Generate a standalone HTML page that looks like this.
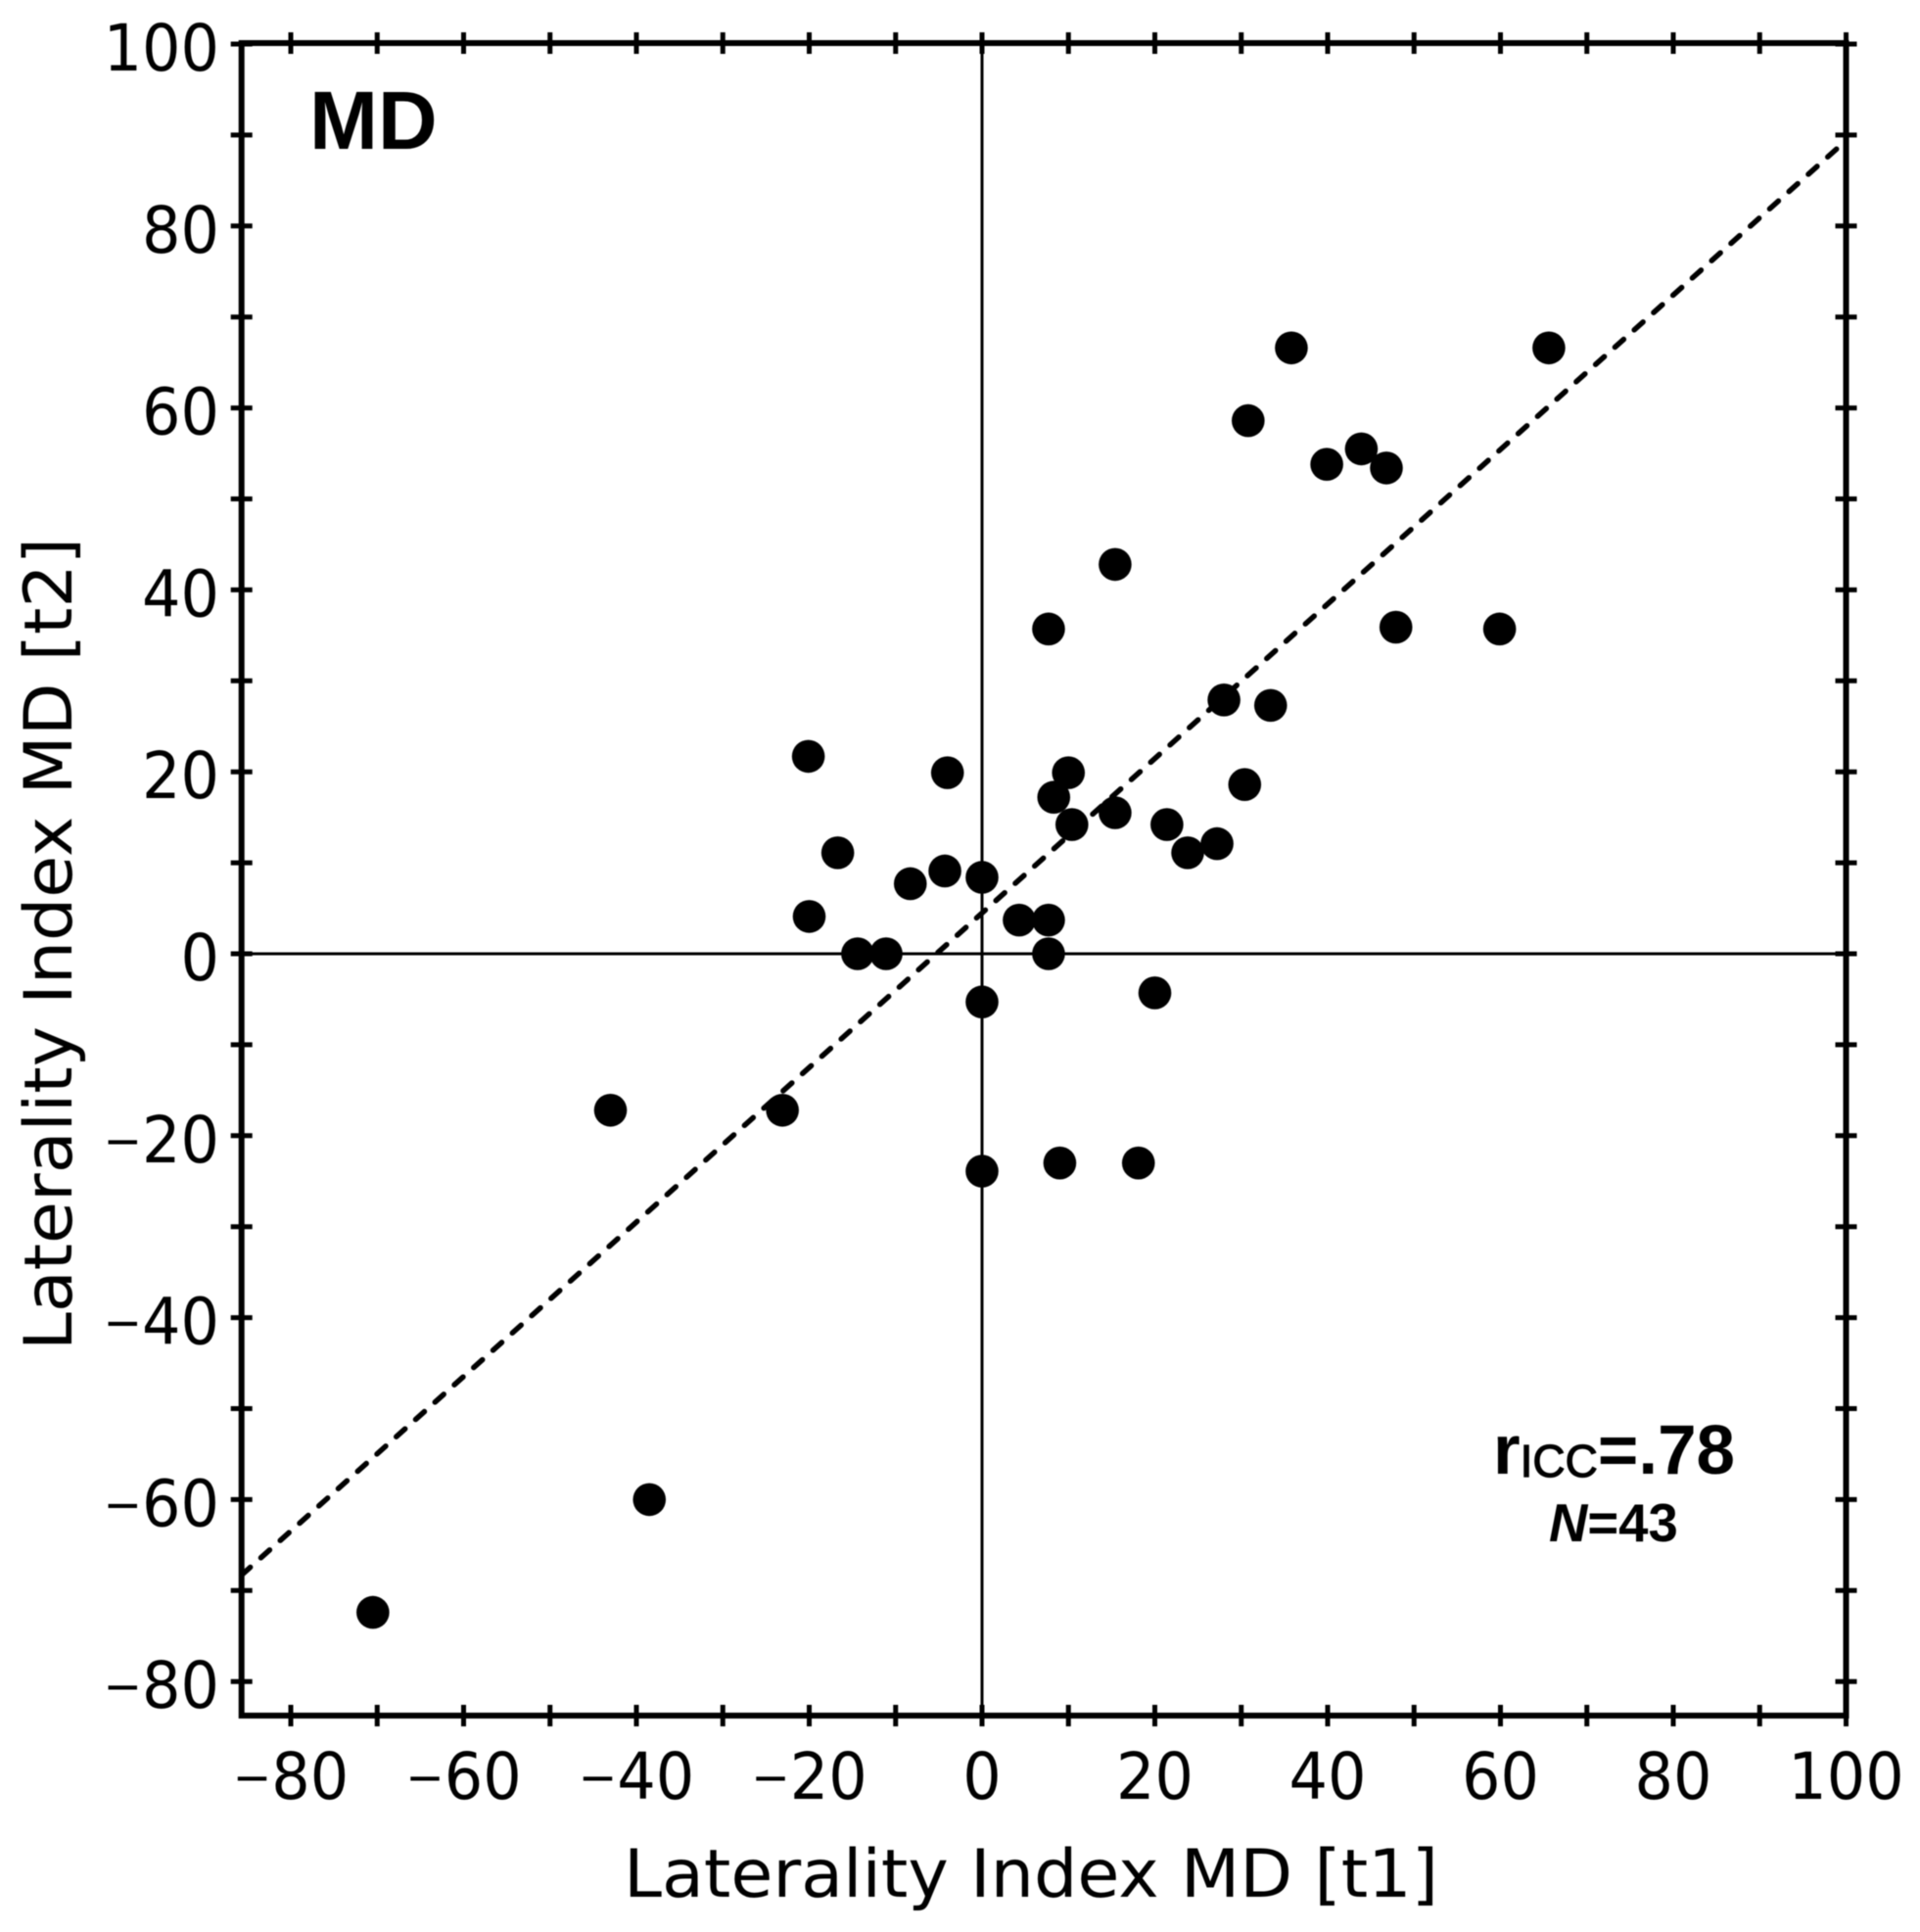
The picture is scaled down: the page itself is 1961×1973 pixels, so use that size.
<!DOCTYPE html>
<html lang="en">
<head>
<meta charset="utf-8">
<title>Laterality Index MD scatter plot</title>
<style>
html,body{margin:0;padding:0;background:#fff;width:1961px;height:1973px;overflow:hidden}
svg{display:block;filter:blur(0.6px)}
text{fill:#000}
.tick{font-family:"DejaVu Sans",sans-serif;font-size:66px}
.title{font-family:"DejaVu Sans",sans-serif;font-size:68px}
.b{font-family:"Liberation Sans",sans-serif;font-weight:bold}
</style>
</head>
<body>
<svg id="chart" xmlns="http://www.w3.org/2000/svg" width="1961" height="1973" viewBox="0 0 1961 1973">
<rect x="0" y="0" width="1961" height="1973" fill="#fff"/>
<g id="marks"></g>
<g id="axes"></g>
<text class="b" x="316" y="152" font-size="84">MD</text>
<text class="title" x="637" y="1937" textLength="832" lengthAdjust="spacingAndGlyphs">Laterality Index MD [t1]</text>
<text class="title" transform="translate(73,1379) rotate(-90)" x="0" y="0" textLength="830" lengthAdjust="spacingAndGlyphs">Laterality Index MD [t2]</text>
<text class="b" x="1525" y="1505" font-size="71">r<tspan font-size="46" font-weight="normal" stroke="#000" stroke-width="1.2" dy="3">ICC</tspan><tspan dy="-3">=.78</tspan></text>
<text class="b" x="1582" y="1574" font-size="54.5"><tspan font-style="italic">N</tspan>=43</text>
</svg>
<script>
var xValues = [-70.5,-38.5,-43,-23.1,0,9,18.1,0,20,-14.4,-11.1,7.7,7.7,4.3,-20,-8.3,-4.3,0,-16.7,-20.1,-4,10,8.3,10.4,15.4,21.4,23.8,27.2,30.4,33.4,28,7.7,15.4,47.9,59.9,30.8,35.8,65.6,39.9,43.9,46.8];
var yValues = [-72.4,-60,-17.2,-17.2,-23.9,-23,-23,-5.3,-4.3,0,0,0,3.7,3.7,4.1,7.7,9.1,8.4,11.1,21.7,19.9,19.9,17.2,14.2,15.5,14.2,11.1,12.1,18.6,27.3,27.9,35.7,42.8,35.9,35.7,58.6,66.6,66.6,53.8,55.5,53.4];
var fitX = [-85.7, 100];
var fitY = [-68.3, 89.4];
var tickLabels = [-80,-60,-40,-20,0,20,40,60,80,100];
var minorTicks = [-70,-50,-30,-10,10,30,50,70,90];

var NS = 'http://www.w3.org/2000/svg';
var plotLeft = 246.7, plotRight = 1885.5, plotTop = 44, plotBottom = 1752;
function sx(v){ return 1003 + v * 8.825; }
function sy(v){ return 974 - v * 9.29; }
function make(tag, attrs, parent){
  var el = document.createElementNS(NS, tag);
  for (var k in attrs) el.setAttribute(k, attrs[k]);
  parent.appendChild(el);
  return el;
}
function fillLabel(el, v){
  if (v < 0) {
    var m = make('tspan', {'font-size': 50, dy: -5}, el);
    m.textContent = '\u2212';
    var d = make('tspan', {dy: 5}, el);
    d.textContent = String(-v);
  } else {
    el.textContent = String(v);
  }
}
var marks = document.getElementById('marks');
var axes = document.getElementById('axes');

var vLine = make('line', {x1: sx(0), x2: sx(0), y1: plotTop, y2: plotBottom, stroke: '#000', 'stroke-width': 3}, marks);


var hLine = make('line', {x1: plotLeft, x2: plotRight, y1: sy(0), y2: sy(0), stroke: '#000', 'stroke-width': 3}, marks);


var fit = make('line', {x1: sx(fitX[0]), x2: sx(fitX[1]), y1: sy(fitY[0]), y2: sy(fitY[1]), stroke: '#000', 'stroke-width': 5.5, 'stroke-dasharray': '12 14.5', 'stroke-linecap': 'round'}, marks);



xValues.forEach(function(x, i){
  var dot = make('circle', {cx: sx(x), cy: sy(yValues[i]), r: 16.8, fill: '#000'}, marks);
  
  
});

var frame = make('rect', {x: plotLeft, y: plotTop, width: plotRight - plotLeft, height: plotBottom - plotTop, fill: 'none', stroke: '#000', 'stroke-width': 6}, axes);



tickLabels.concat(minorTicks).forEach(function(v){
  [plotTop, plotBottom].forEach(function(yy){
    var t = make('line', {x1: sx(v), x2: sx(v), y1: yy - 11, y2: yy + 11, stroke: '#000', 'stroke-width': 5}, axes);
    
    
  });
  [plotLeft, plotRight].forEach(function(xx){
    var t = make('line', {x1: xx - 11, x2: xx + 11, y1: sy(v), y2: sy(v), stroke: '#000', 'stroke-width': 5}, axes);
    
    
  });
});

tickLabels.forEach(function(v){
  var xl = make('text', {transform: 'translate(' + sx(v) + ',1837) scale(0.94,1)', 'text-anchor': 'middle', 'class': 'tick'}, axes);
  fillLabel(xl, v);
  
  
  var yl = make('text', {transform: 'translate(224,' + (sy(v) + 27) + ') scale(0.94,1)', 'text-anchor': 'end', 'class': 'tick'}, axes);
  fillLabel(yl, v);
  
  
});
</script>
</body>
</html>
